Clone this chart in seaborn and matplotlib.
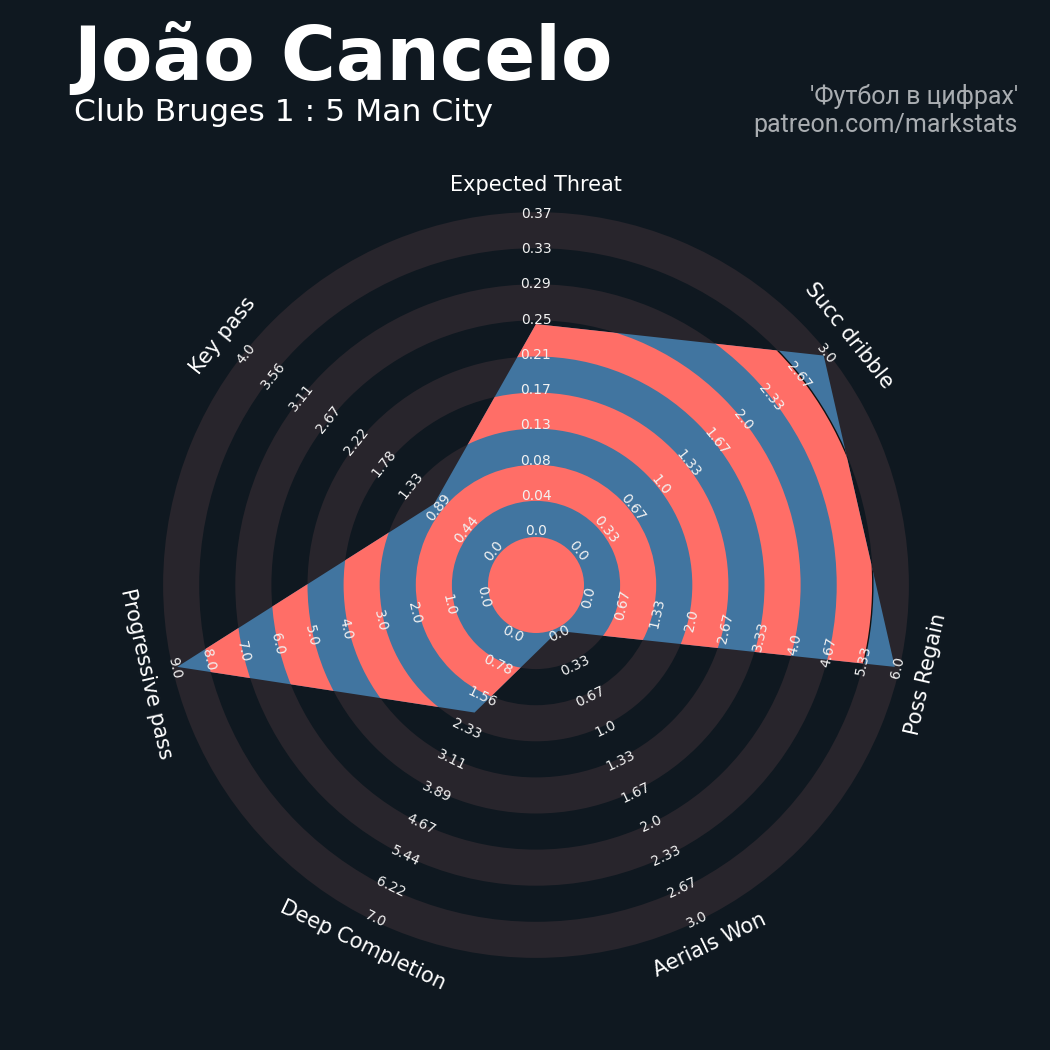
import numpy as np
import matplotlib
matplotlib.use("Agg")
import matplotlib.pyplot as plt
from matplotlib.patches import Circle, Wedge, Polygon, Arc
import seaborn as sns

# ---------------- data ----------------
params = ["Expected Threat", "Succ dribble", "Poss Regain", "Aerials Won",
          "Deep Completion", "Progressive pass", "Key pass"]
values = [0.245, 3.0, 6.0, 0.0, 2.0, 9.0, 1.0]
low = [0.0, 0.0, 0.0, 0.0, 0.0, 0.0, 0.0]
high = [0.37, 3.0, 6.0, 3.0, 7.0, 9.0, 4.0]
range_labels = [
    ["0.0", "0.04", "0.08", "0.13", "0.17", "0.21", "0.25", "0.29", "0.33", "0.37"],
    ["0.0", "0.33", "0.67", "1.0", "1.33", "1.67", "2.0", "2.33", "2.67", "3.0"],
    ["0.0", "0.67", "1.33", "2.0", "2.67", "3.33", "4.0", "4.67", "5.33", "6.0"],
    ["0.0", "0.33", "0.67", "1.0", "1.33", "1.67", "2.0", "2.33", "2.67", "3.0"],
    ["0.0", "0.78", "1.56", "2.33", "3.11", "3.89", "4.67", "5.44", "6.22", "7.0"],
    ["0.0", "1.0", "2.0", "3.0", "4.0", "5.0", "6.0", "7.0", "8.0", "9.0"],
    ["0.0", "0.44", "0.89", "1.33", "1.78", "2.22", "2.67", "3.11", "3.56", "4.0"],
]
title = "João Cancelo"
subtitle = "Club Bruges 1 : 5 Man City"
credit_lines = ["'Футбол в цифрах'", "patreon.com/markstats"]

# ---------------- style ----------------
BG = "#0f1820"
RING = "#28252c"
BLUE = "#4175a0"
SALMON = "#ff6e67"

sns.set_theme(style="dark", rc={"figure.facecolor": BG, "axes.facecolor": BG,
                                "savefig.facecolor": BG})
plt.rcParams["font.family"] = ["DejaVu Sans"]

# geometry (units = ring width)
PX = 36.1
R_C = 48 / PX           # centre circle radius
N_RINGS = 9
V0, V1 = 51 / PX, 368 / PX      # radius of min / max value
L0, L1 = 54 / PX, 371 / PX      # radius of first / last range label
R_PARAM = 400 / PX

fig = plt.figure(figsize=(10.5, 10.5), dpi=100)
ax = fig.add_axes([0, 0, 1, 1])
ax.set_xlim(-536 / PX, (1050 - 536) / PX)
ax.set_ylim(-(1050 - 585) / PX, 585 / PX)
ax.set_aspect("equal")
ax.axis("off")

n = len(params)
angles = np.deg2rad(90 - np.arange(n) * 360.0 / n)

# background rings
for k in range(0, N_RINGS, 2):
    ax.add_patch(Wedge((0, 0), R_C + k + 1, 0, 360, width=1.0,
                       facecolor=RING, edgecolor="none", zorder=1))

# radar polygon
frac = (np.array(values) - np.array(low)) / (np.array(high) - np.array(low))
rad = V0 + frac * (V1 - V0)
verts = np.column_stack([rad * np.cos(angles), rad * np.sin(angles)])
poly = Polygon(verts, closed=True, facecolor=BLUE, edgecolor="none", zorder=2)
ax.add_patch(poly)

# salmon rings inside polygon
for k in range(1, N_RINGS, 2):
    w = Wedge((0, 0), R_C + k + 1, 0, 360, width=1.0,
              facecolor=SALMON, edgecolor="none", zorder=3)
    ax.add_patch(w)
    w.set_clip_path(poly)

arc = Arc((0, 0), 2 * (R_C + 8), 2 * (R_C + 8), theta1=-14, theta2=50,
          color="#111111", lw=1.0, zorder=4)
ax.add_patch(arc)
arc.set_clip_path(poly)

ax.add_patch(Circle((0, 0), R_C, facecolor=SALMON, edgecolor="none", zorder=5))


def rot_for(a_deg):
    r = a_deg - 90
    while r <= -90:
        r += 180
    while r > 90:
        r -= 180
    return r


# range labels
for i in range(n):
    a = angles[i]
    adeg = np.rad2deg(a)
    labs = range_labels[i]
    lr = np.linspace(L0, L1, len(labs))
    for lab, r in zip(labs, lr):
        ax.text(r * np.cos(a), r * np.sin(a), lab, color="#f2f2f2", fontsize=10,
                ha="center", va="center", rotation=rot_for(adeg),
                rotation_mode="anchor", zorder=6)
    ax.text(R_PARAM * np.cos(a), R_PARAM * np.sin(a), params[i], color="white",
            fontsize=15, ha="center", va="center", rotation=rot_for(adeg),
            rotation_mode="anchor", zorder=6)

# titles
fig.text(73 / 1050, 1 - 80 / 1050, title, color="white", fontsize=54,
         fontweight="bold", ha="left", va="baseline")
fig.text(74 / 1050, 1 - 121 / 1050, subtitle, color="white", fontsize=22.6,
         ha="left", va="baseline")
fig.text(1018 / 1050, 1 - 104 / 1050, credit_lines[0], color="#a9adb1",
         fontsize=18, ha="right", va="baseline", family=["Roboto", "DejaVu Sans"])
fig.text(1018 / 1050, 1 - 132 / 1050, credit_lines[1], color="#a9adb1",
         fontsize=18, ha="right", va="baseline", family=["Roboto", "DejaVu Sans"])

fig.savefig("out.png", dpi=100, facecolor=BG)
